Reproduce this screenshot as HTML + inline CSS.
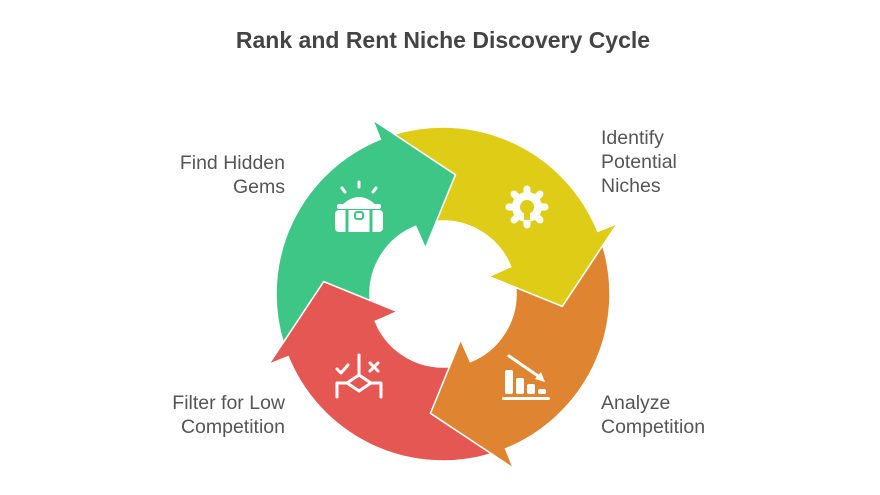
<!DOCTYPE html>
<html><head><meta charset="utf-8"><style>
body{margin:0;background:#fff;width:880px;height:495px;overflow:hidden;font-family:"Liberation Sans",sans-serif}
.t{position:absolute;font-size:19.5px;color:#555;line-height:24px}
</style></head><body>
<div style="position:absolute;left:0;width:886px;top:27px;text-align:center;font-size:23px;font-weight:bold;color:#444">Rank and Rent Niche Discovery Cycle</div>
<div class="t" style="right:595px;top:151px;text-align:right">Find Hidden<br>Gems</div>
<div class="t" style="left:601px;top:126px">Identify<br>Potential<br>Niches</div>
<div class="t" style="left:601px;top:391px">Analyze<br>Competition</div>
<div class="t" style="right:595px;top:391px;text-align:right">Filter for Low<br>Competition</div>
<svg id="s" width="880" height="495" style="position:absolute;left:0;top:0">
<g id="arrows"></g>
<g fill="#fff" stroke="#fff">
 <g transform="translate(359,212)">
  <rect x="-24" y="-2" width="48" height="22" rx="4" stroke="none"/>
  <path d="M-18,-6 Q0,-24 18,-6 Z" stroke="none"/>
  <rect x="-22" y="-8" width="44" height="5" rx="2" stroke="none"/>
  <line x1="-12" y1="-2" x2="-12" y2="20" stroke="#3ec687" stroke-width="3"/>
  <line x1="12" y1="-2" x2="12" y2="20" stroke="#3ec687" stroke-width="3"/>
  <rect x="-4" y="0" width="8" height="7" rx="2" stroke="#3ec687" stroke-width="2"/>
  <line x1="0" y1="-30" x2="0" y2="-25" stroke-width="3" stroke-linecap="round"/>
  <line x1="-17" y1="-24" x2="-14" y2="-20" stroke-width="3" stroke-linecap="round"/>
  <line x1="17" y1="-24" x2="14" y2="-20" stroke-width="3" stroke-linecap="round"/>
 </g>
 <g transform="translate(527,207)">
  <circle r="15" stroke="none"/>
  <g stroke-width="7" stroke-linecap="round">
   <line x1="0" y1="-18" x2="0" y2="18"/><line x1="-18" y1="0" x2="18" y2="0"/>
   <line x1="-13" y1="-13" x2="13" y2="13"/><line x1="-13" y1="13" x2="13" y2="-13"/>
  </g>
  <circle r="7" fill="#dfcc16" stroke="none"/>
  <rect x="-3" y="6" width="6" height="7" fill="#dfcc16" stroke="none"/>
 </g>
 <g transform="translate(527,380)" stroke="none">
  <rect x="-22" y="-10" width="8" height="24" rx="2"/>
  <rect x="-11" y="-2" width="8" height="16" rx="2"/>
  <rect x="0" y="4" width="8" height="10" rx="2"/>
  <rect x="11" y="9" width="8" height="5" rx="2"/>
  <rect x="-25" y="17" width="48" height="3" rx="1.5"/>
  <line x1="-18" y1="-24" x2="14" y2="-2" stroke="#fff" stroke-width="3" stroke-linecap="round"/>
  <path d="M18,2 L8,-1 L14,-8 Z"/>
 </g>
 <g transform="translate(359,381)" fill="none" stroke-width="3" stroke-linecap="round" stroke-linejoin="round">
  <line x1="0" y1="-26" x2="0" y2="-6"/>
  <path d="M-22,16 V2 H-12 L0,-6 L12,2 H22 V16"/>
  <path d="M-12,2 L0,10 L12,2"/>
  <path d="M-22,-12 L-18,-8 L-11,-16"/>
  <path d="M11,-18 L19,-10 M19,-18 L11,-10"/>
 </g>
</g>
</svg>
<script>
var cx=443,cy=294,R=167,r=73;
function P(rad,deg){var a=deg*Math.PI/180;return [cx+rad*Math.sin(a),cy-rad*Math.cos(a)];}
function inter(A,B,rad){
 var dx=B[0]-A[0],dy=B[1]-A[1],fx=A[0]-cx,fy=A[1]-cy;
 var a=dx*dx+dy*dy,b=2*(fx*dx+fy*dy),c=fx*fx+fy*fy-rad*rad;
 var d=Math.sqrt(Math.max(0,b*b-4*a*c));
 var t1=(-b-d)/(2*a),t2=(-b+d)/(2*a);
 var t=(t1>=0&&t1<=1)?t1:t2;return [A[0]+t*dx,A[1]+t*dy];}
function head(b){return {B1:P(188,b),T:P(120,b+28),B2:P(49,b+1)};}
var cols=["#e55753","#3ec687","#dfcc16","#df8431"];
var bases=[248,338,68,158];
var s="";
for(var k=0;k<4;k++){
 var b=bases[k],pb=b-90,h=head(b),ph=head(pb);
 var to=inter(ph.B1,ph.T,R),ti=inter(ph.T,ph.B2,r);
 var o1=P(R,b),i1=P(r,b);
 var f=function(p){return p[0].toFixed(1)+","+p[1].toFixed(1);};
 var d="M"+f(to)+" A"+R+","+R+" 0 0 1 "+f(o1)+" L"+f(h.B1)+" L"+f(h.T)+" L"+f(h.B2)+" L"+f(i1)+
  " A"+r+","+r+" 0 0 0 "+f(ti)+" L"+f(ph.T)+" Z";
 s+='<path d="'+d+'" fill="'+cols[k]+'" stroke="#fff" stroke-width="1.5" stroke-linejoin="miter"/>';
}
document.getElementById("arrows").innerHTML=s;
</script>
</body></html>
